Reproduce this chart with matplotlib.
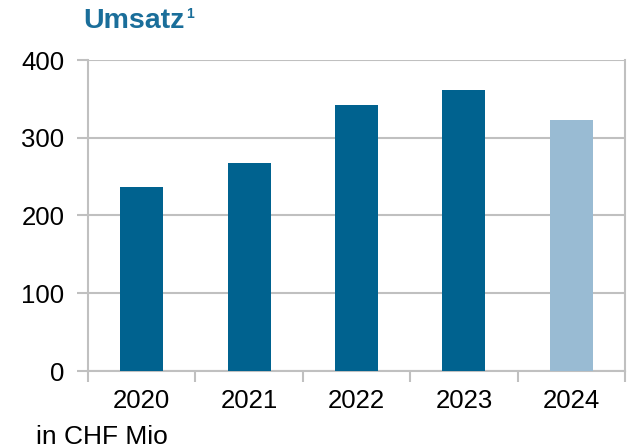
import matplotlib
matplotlib.use("Agg")
import matplotlib.pyplot as plt

# data
years = ["2020", "2021", "2022", "2023", "2024"]
umsatz = [237, 267, 342, 362, 323]
bar_colors = ["#00628f", "#00628f", "#00628f", "#00628f", "#99bbd3"]

plt.rcParams['font.family'] = ['Liberation Sans', 'DejaVu Sans']
grid_c = "#c0c0c0"

fig = plt.figure(figsize=(6.29, 4.48), dpi=100)
ax = fig.add_axes([88/629, 1-371/448, (625-88)/629, (371-60)/448])

x = list(range(len(years)))
ax.bar(x, umsatz, width=0.4, color=bar_colors, zorder=3)

ax.set_xlim(-0.5, len(years) - 0.5)
ax.set_ylim(0, 400)
ax.set_yticks([0, 100, 200, 300, 400])
ax.yaxis.grid(True, color=grid_c, linewidth=1.5, zorder=0)

# category boundaries as tick marks, labels centred under bars
ax.set_xticks([i - 0.5 for i in range(len(years) + 1)])
ax.set_xticklabels([])
ax.set_xticks(x, minor=True)
ax.set_xticklabels(years, minor=True)
ax.tick_params(axis="x", which="major", length=8, width=1.5, color=grid_c)
ax.tick_params(axis="x", which="minor", length=0, pad=13, labelsize=18.5)
ax.tick_params(axis="y", length=8, width=1.5, color=grid_c, labelsize=18.5, pad=9)

for s in ["left", "right", "bottom"]:
    ax.spines[s].set_color(grid_c)
    ax.spines[s].set_linewidth(1.5)
ax.spines["top"].set_visible(False)

fig.text(83/629, 1-28/448, "Umsatz", color="#1a6e9a", fontsize=20.5,
         fontweight="bold", va="baseline", ha="left")
fig.text(186/629, 1-18/448, "1", color="#1a6e9a", fontsize=10,
         fontweight="bold", va="baseline", ha="left")
fig.text(36/629, 1-444/448, "in CHF Mio", fontsize=19, va="baseline", ha="left")

fig.savefig("out.png", dpi=100)
